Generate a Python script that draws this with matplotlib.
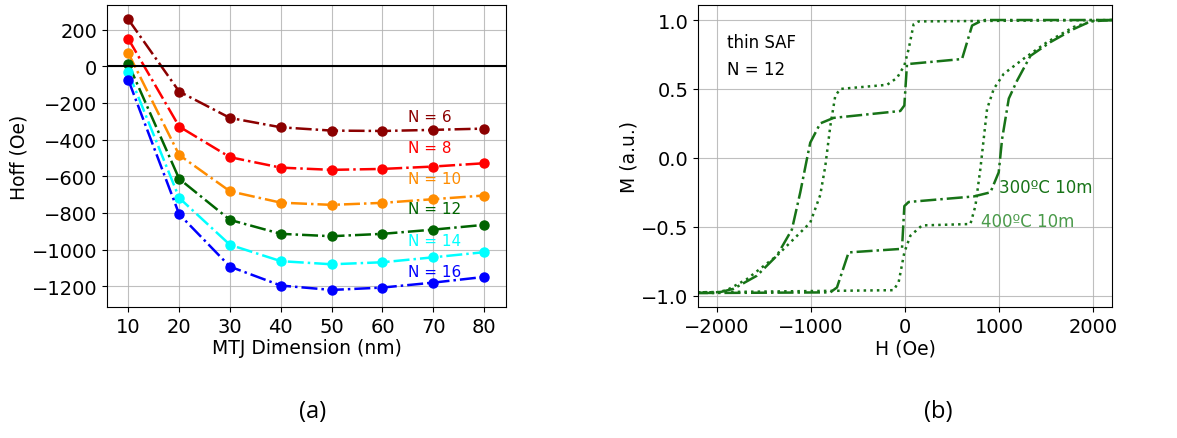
import matplotlib
matplotlib.use("Agg")
import matplotlib.pyplot as plt
import numpy as np

# ---- panel (a) data ----
dims = [10, 20, 30, 40, 50, 60, 70, 80]
n_labels = ["N = 6", "N = 8", "N = 10", "N = 12", "N = 14", "N = 16"]
colors = ["darkred", "red", "darkorange", "darkgreen", "cyan", "blue"]
hoff_N6 = [255, -138, -282, -333, -351, -353, -347, -340]
hoff_N8 = [149, -329, -496, -553, -565, -560, -547, -529]
hoff_N10 = [71, -484, -682, -744, -756, -745, -725, -705]
hoff_N12 = [13, -614, -838, -914, -927, -914, -891, -865]
hoff_N14 = [-33, -718, -974, -1063, -1080, -1069, -1042, -1014]
hoff_N16 = [-75, -807, -1093, -1196, -1220, -1207, -1180, -1149]
label_y = [-273, -442, -611, -778, -951, -1120]

# ---- panel (b) data ----
h300_down = [2200, 2000, 850, 800, 713, 606, 21, -7, -50, -759, -901, -1007, -1043,
             -1113, -1202, -1362, -1574, -1823, -2000, -2200]
m300_down = [1.0, 1.0, 1.0, 0.99, 0.96, 0.717, 0.68, 0.38, 0.34, 0.29, 0.25, 0.11, -0.01,
             -0.25, -0.52, -0.71, -0.855, -0.95, -0.98, -0.98]
h300_up = [-2200, -2000, -794, -723, -599, -32, -7, 39, 730, 908, 996, 1032, 1103,
           1191, 1333, 1546, 1794, 1972, 2200]
m300_up = [-0.98, -0.98, -0.976, -0.94, -0.686, -0.66, -0.35, -0.32, -0.28, -0.25,
           -0.105, 0.137, 0.43, 0.56, 0.74, 0.84, 0.935, 0.99, 1.0]
h400_down = [2200, 145, 92, 39, -7, -85, -191, -688, -741, -794, -847, -901, -1007,
             -1184, -1362, -1681, -1894, -2000, -2200]
m400_down = [1.0, 0.99, 0.97, 0.79, 0.67, 0.58, 0.53, 0.50, 0.45, 0.23, -0.06, -0.27,
             -0.47, -0.59, -0.71, -0.88, -0.96, -0.975, -0.975]
h400_up = [-2200, -121, -67, -7, 57, 181, 695, 748, 801, 872, 943, 1050, 1262, 1511,
           1794, 2007, 2200]
m400_up = [-0.975, -0.96, -0.90, -0.686, -0.565, -0.49, -0.48, -0.35, -0.08, 0.354,
           0.50, 0.61, 0.72, 0.84, 0.95, 0.995, 1.0]

TICK = 14
LAB = 13.5

fig = plt.figure(figsize=(11.77, 4.39), dpi=100)
ax1 = fig.add_axes([107/1177, 1 - 308/439, 399/1177, 302/439])
ax2 = fig.add_axes([698/1177, 1 - 308/439, 414/1177, 302/439])

series = [hoff_N6, hoff_N8, hoff_N10, hoff_N12, hoff_N14, hoff_N16]
for vals, c, lab, ly in zip(series, colors, n_labels, label_y):
    ax1.plot(dims, vals, linestyle='-.', color=c, marker='o', markersize=6.5, lw=1.8)
    ax1.text(65, ly, lab, color=c, ha='left', va='center', fontsize=11)
ax1.axhline(0, color='black', lw=1.5)
ax1.set_xlim(5.8, 84.3)
ax1.set_ylim(-1313, 334)
ax1.set_xticks(dims)
ax1.set_yticks([200, 0, -200, -400, -600, -800, -1000, -1200])
ax1.grid(True, color='#b0b0b0', lw=0.8, alpha=0.8)
ax1.tick_params(labelsize=TICK)
ax1.set_xlabel("MTJ Dimension (nm)", fontsize=LAB, labelpad=2)
ax1.set_ylabel("Hoff (Oe)", fontsize=LAB, labelpad=2)

c300 = '#177317'
ax2.plot(h300_down, m300_down, linestyle='-.', color=c300, lw=1.8)
ax2.plot(h300_up, m300_up, linestyle='-.', color=c300, lw=1.8)
ax2.plot(h400_down, m400_down, linestyle=':', color=c300, lw=1.8)
ax2.plot(h400_up, m400_up, linestyle=':', color=c300, lw=1.8)
ax2.text(-1890, 0.84, "thin SAF", ha='left', va='center', fontsize=12)
ax2.text(-1890, 0.645, "N = 12", ha='left', va='center', fontsize=12)
ax2.text(1004, -0.21, "300ºC 10m", color=c300, ha='left', va='center', fontsize=12)
ax2.text(809, -0.456, "400ºC 10m", color='#4a9a4a', ha='left', va='center', fontsize=12)
ax2.set_xlim(-2200, 2200)
ax2.set_ylim(-1.082, 1.109)
ax2.set_xticks([-2000, -1000, 0, 1000, 2000])
ax2.set_yticks([1.0, 0.5, 0.0, -0.5, -1.0])
ax2.grid(True, color='#b0b0b0', lw=0.8, alpha=0.8)
ax2.tick_params(labelsize=TICK)
ax2.set_xlabel("H (Oe)", fontsize=LAB, labelpad=2)
ax2.set_ylabel("M (a.u.)", fontsize=LAB, labelpad=2)

fig.text(313/1177, 1 - 412/439, "(a)", ha='center', va='center', fontsize=17,
         family='Open Sans')
fig.text(938/1177, 1 - 412/439, "(b)", ha='center', va='center', fontsize=17,
         family='Open Sans')

fig.savefig("out.png", dpi=100)
